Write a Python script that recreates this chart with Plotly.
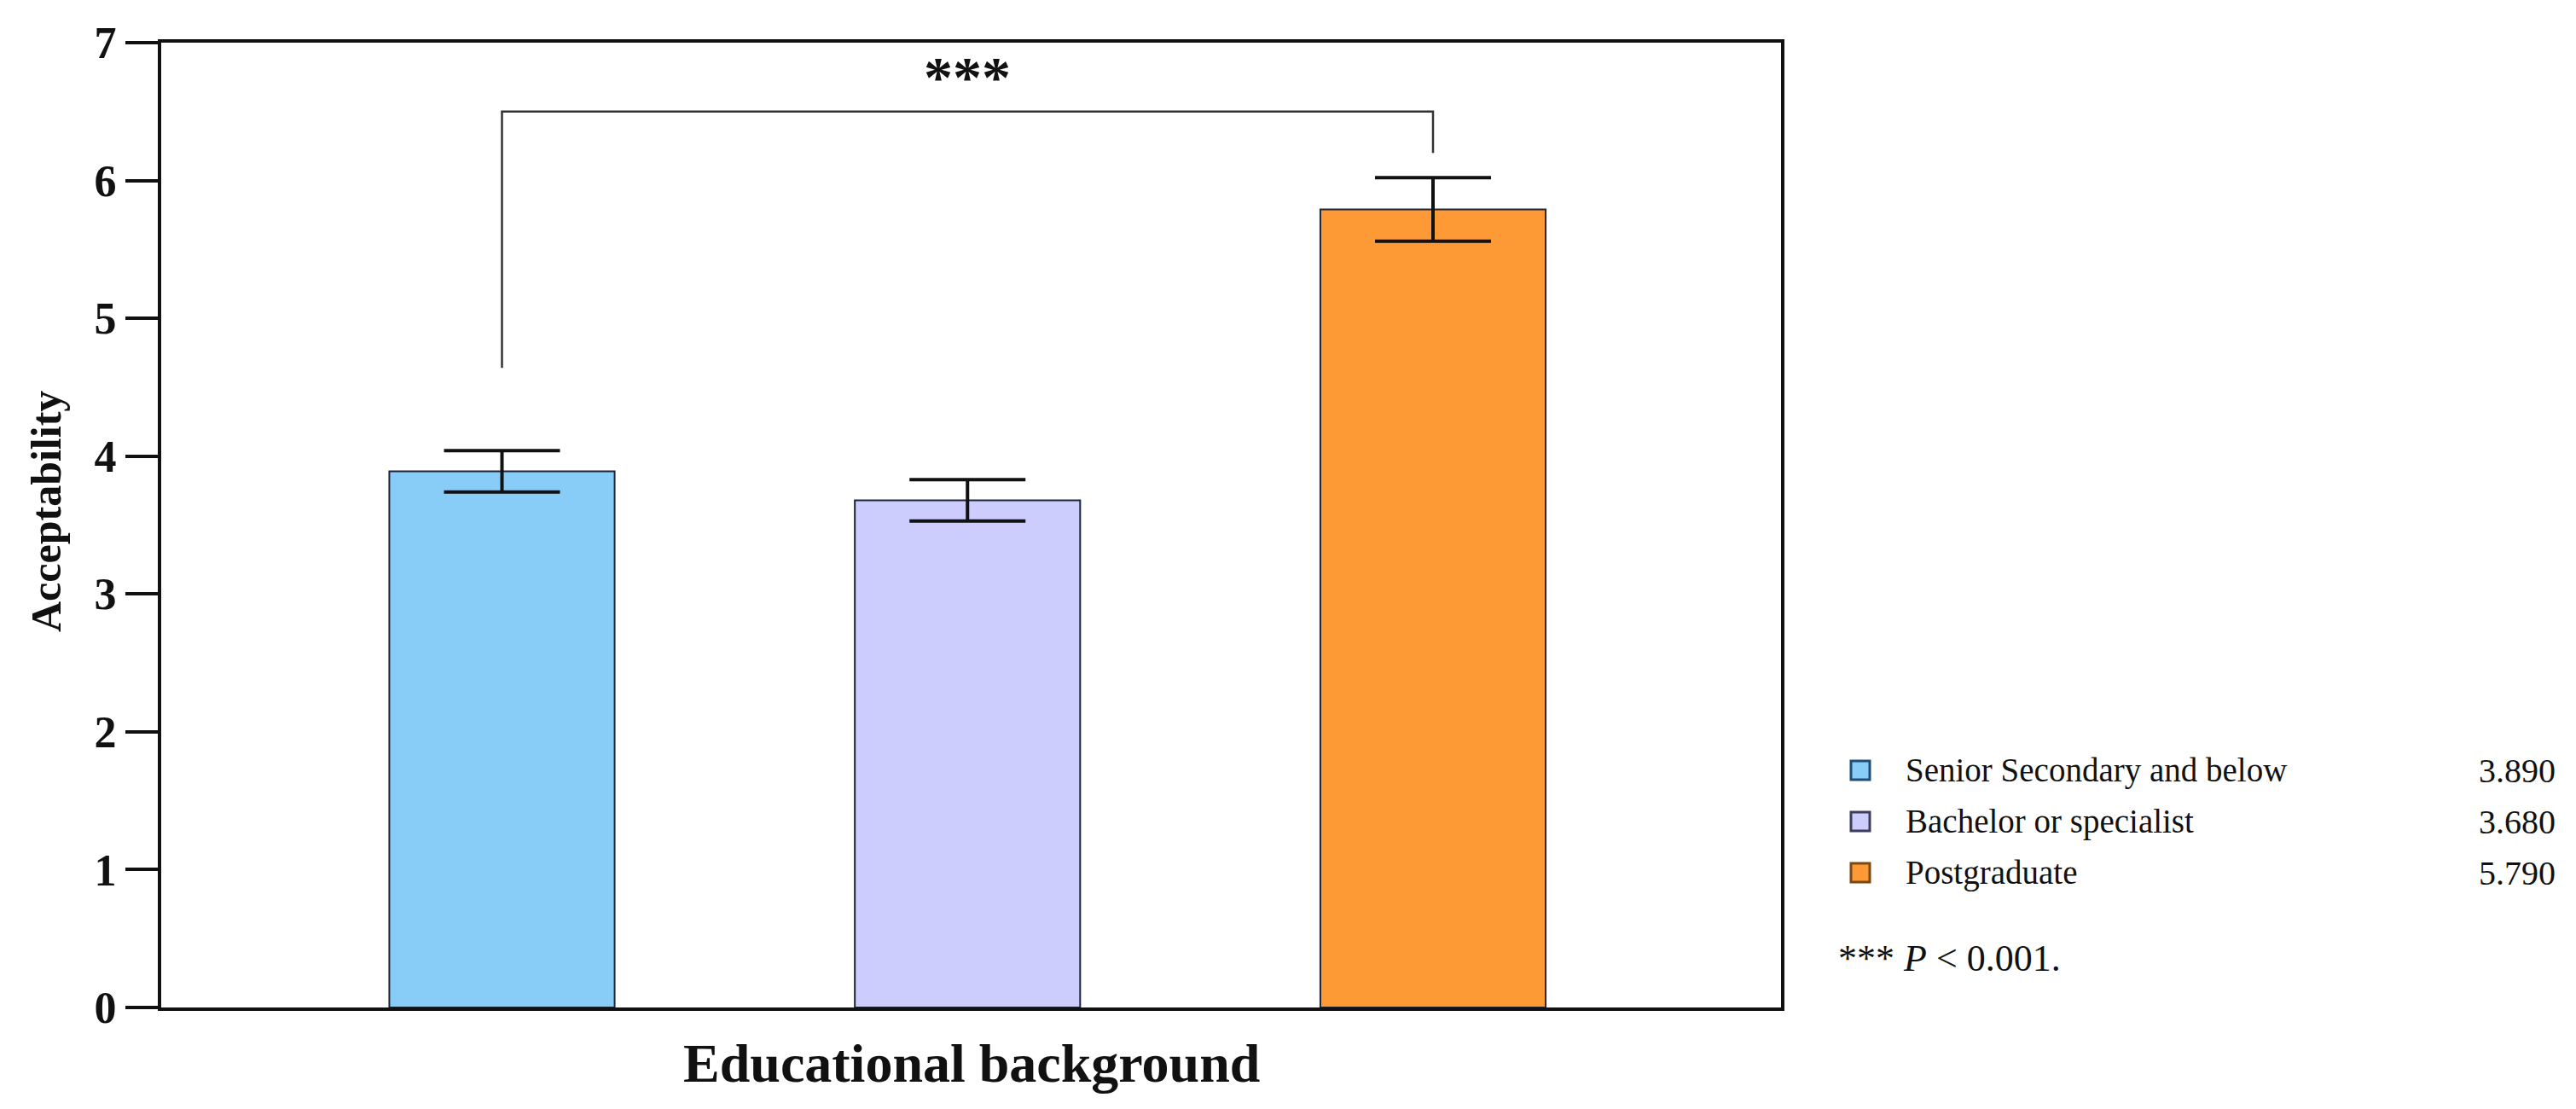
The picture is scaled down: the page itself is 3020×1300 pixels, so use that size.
import plotly.graph_objects as go

# ---------------- data ----------------
categories = ["Senior Secondary and below", "Bachelor or specialist", "Postgraduate"]
means = [3.89, 3.68, 5.79]
errors = [0.15, 0.15, 0.23]
bar_colors = ["#88CDF8", "#CCCCFD", "#FE9A35"]
square_borders = ["#1E4E78", "#3C3C5C", "#7A4810"]
y_ticks = [0, 1, 2, 3, 4, 5, 6, 7]
x_title = "Educational background"
y_title = "Acceptability"
sig_label = "***"
footnote = "*** <i>P</i> &lt; 0.001."
# significance bracket (y-levels, data units)
bracket_left_y = 4.64
bracket_top_y = 6.5
bracket_right_y = 6.2

# ---------------- layout constants ----------------
W, H = 3020, 1300
PL, PR, PT, PB = 181, 2080, 42, 1173   # plot area in pixels
FONT = "Liberation Serif, Times New Roman, serif"
CAT_PX0, CAT_STEP = 580.5, 545.75     # pixel centre of first category, spacing


def px_x(px):
    return (px - PL) / (PR - PL)


def px_y(py):
    return (PB - py) / (PB - PT)


fig = go.Figure()

fig.add_trace(go.Bar(
    x=categories,
    y=means,
    width=0.484,
    marker=dict(color=bar_colors, line=dict(color="#1C2438", width=2)),
    error_y=dict(type="data", array=errors, visible=True,
                 color="#111111", thickness=4, width=68),
    showlegend=False,
    hoverinfo="x+y",
))

# significance bracket between first and last group
fig.add_trace(go.Scatter(
    x=[categories[0], categories[0], categories[2], categories[2]],
    y=[bracket_left_y, bracket_top_y, bracket_top_y, bracket_right_y],
    mode="lines",
    line=dict(color="#333333", width=2.5),
    showlegend=False,
    hoverinfo="skip",
))

annotations = []
shapes = []

# significance stars
annotations.append(dict(
    x=categories[1], xref="x", y=px_y(82), yref="paper",
    text=sig_label, showarrow=False, xanchor="center", yanchor="middle",
    font=dict(family=FONT, size=68, color="#111111", weight="bold"),
))

# axis titles
annotations.append(dict(
    x=px_x((PL + PR) / 2), xref="paper", y=px_y(1238), yref="paper",
    text="<b>" + x_title + "</b>", showarrow=False,
    xanchor="center", yanchor="middle",
    font=dict(family=FONT, size=64, color="#111111"),
))
annotations.append(dict(
    x=px_x(46), xref="paper", y=px_y(592), yref="paper",
    text="<b>" + y_title + "</b>", showarrow=False, textangle=-90,
    xanchor="center", yanchor="middle",
    font=dict(family=FONT, size=50, color="#111111"),
))

# custom legend with mean values
row_y = [895, 955, 1015]
sq = 22
sq_cx = 2173
for i, cat in enumerate(categories):
    cy = row_y[i]
    shapes.append(dict(
        type="rect", xref="paper", yref="paper",
        x0=px_x(sq_cx - sq / 2), x1=px_x(sq_cx + sq / 2),
        y0=px_y(cy + sq / 2), y1=px_y(cy - sq / 2),
        fillcolor=bar_colors[i], line=dict(color=square_borders[i], width=3),
    ))
    annotations.append(dict(
        x=px_x(2224), xref="paper", y=px_y(cy), yref="paper",
        text=cat, showarrow=False, xanchor="left", yanchor="middle",
        font=dict(family=FONT, size=39, color="#111111"),
    ))
    annotations.append(dict(
        x=px_x(2990), xref="paper", y=px_y(cy), yref="paper",
        text=f"{means[i]:.3f}", showarrow=False, xanchor="right", yanchor="middle",
        font=dict(family=FONT, size=40, color="#111111"),
    ))

annotations.append(dict(
    x=px_x(2145), xref="paper", y=px_y(1115), yref="paper",
    text=footnote, showarrow=False, xanchor="left", yanchor="middle",
    font=dict(family=FONT, size=44, color="#111111"),
))

x_lo = (PL - CAT_PX0) / CAT_STEP
x_hi = (PR - CAT_PX0) / CAT_STEP

fig.update_layout(
    width=W, height=H,
    margin=dict(l=PL, r=W - PR, t=PT, b=H - PB, pad=0),
    paper_bgcolor="white",
    plot_bgcolor="white",
    font=dict(family=FONT, color="#111111"),
    showlegend=False,
    annotations=annotations,
    shapes=shapes,
    xaxis=dict(
        type="category",
        range=[x_lo, x_hi],
        showticklabels=False,
        ticks="",
        showgrid=False,
        zeroline=False,
        showline=True, linecolor="#111111", linewidth=4, mirror=True,
    ),
    yaxis=dict(
        range=[0, 7],
        tickvals=y_ticks,
        ticktext=[f"<b>{v}</b>" for v in y_ticks],
        ticks="outside", ticklen=38, tickwidth=4, tickcolor="#111111",
        tickfont=dict(family=FONT, size=52, color="#111111"),
        showgrid=False,
        zeroline=False,
        showline=True, linecolor="#111111", linewidth=4, mirror=True,
    ),
)

fig.write_html("out.html")
